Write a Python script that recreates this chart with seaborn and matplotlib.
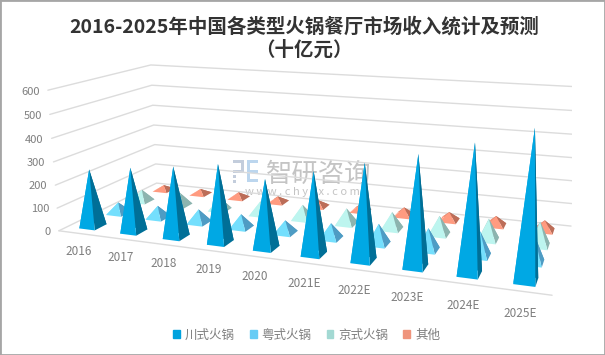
"""Hotpot restaurant revenue 2016-2025: 3D pyramid column chart."""
import matplotlib
matplotlib.use("Agg")
import matplotlib.pyplot as plt
from matplotlib.patches import Patch, Rectangle
from mpl_toolkits.mplot3d import proj3d
from mpl_toolkits.mplot3d.art3d import Poly3DCollection
import seaborn as sns

years = ["2016", "2017", "2018", "2019", "2020", "2021E", "2022E", "2023E", "2024E", "2025E"]
series_names = ["川式火锅", "粤式火锅", "京式火锅", "其他"]
chuan = [252, 277, 300, 328, 285, 335, 385, 435, 493, 560]
yue = [50, 55, 60, 60, 55, 65, 85, 90, 100, 110]
jing = [55, 60, 60, 60, 65, 70, 75, 80, 90, 100]
other = [25, 25, 28, 28, 30, 32, 38, 38, 42, 45]
values = [chuan, yue, jing, other]
y_ticks = [0, 100, 200, 300, 400, 500, 600]

# front, right, back, left face colours for each series
face_colors = [
    ("#00A8E4", "#006F97", "#006F97", "#00A8E4"),
    ("#74DFFD", "#4E9CC4", "#4E9CC4", "#74DFFD"),
    ("#BDF5EF", "#8CB4AF", "#8CB4AF", "#BDF5EF"),
    ("#FF9B80", "#BC6D58", "#BC6D58", "#FF9B80"),
]
legend_colors = ["#00A2DE", "#66CCF5", "#A3D9D3", "#EF947C"]
TEXT = "#7F7F7F"
GRID = "#DCDCDC"
HALF_X = 0.19
HALF_Y = 0.22

sns.set_theme(style="white")
plt.rcParams["font.family"] = ["Noto Sans CJK SC", "DejaVu Sans"]

fig = plt.figure(figsize=(6.05, 3.55), dpi=100)
S, OX, OY = 526.2, 309.1, 167.0
ax = fig.add_axes([(OX - S / 2) / 605, (355 - OY - S / 2) / 355, S / 605, S / 355],
                  projection="3d", computed_zorder=False)
ax.set_xlim(0, len(years))
ax.set_ylim(0, len(series_names))
ax.set_zlim(0, 600)
ax.view_init(13.99, -69.56, 0.17)
ax.set_proj_type("persp", focal_length=0.3049)
ax.set_box_aspect((3.373, 1.333, 1))
ax.set_xticks([])
ax.set_yticks([])
ax.set_zticks([])
ax.set_axis_off()
ax.patch.set_alpha(0)

n_x, n_y = len(years), len(series_names)
for tick in y_ticks:
    ax.plot([0, 0, n_x], [0, n_y, n_y], [tick, tick, tick], color=GRID, lw=1, zorder=1)
ax.plot([0, n_x], [0, 0], [0, 0], color=GRID, lw=1, zorder=1)


def pyramid(cx, cy, height):
    x0, x1 = cx - HALF_X, cx + HALF_X
    y0, y1 = cy - HALF_Y, cy + HALF_Y
    tip = (cx, cy, height)
    return [
        [(x0, y0, 0), (x1, y0, 0), tip],
        [(x1, y0, 0), (x1, y1, 0), tip],
        [(x1, y1, 0), (x0, y1, 0), tip],
        [(x0, y1, 0), (x0, y0, 0), tip],
    ]


for j, vals in enumerate(values):
    for i, val in enumerate(vals):
        poly = Poly3DCollection(pyramid(i + 0.5, j + 0.5, val),
                                facecolors=face_colors[j], edgecolors="none",
                                linewidths=0, zorder=10 + (n_y - j) * 20 + i)
        ax.add_collection3d(poly, autolim=False)


def label(x, y, z, text, **kwargs):
    u, v, _ = proj3d.proj_transform(x, y, z, ax.get_proj())
    ax.text2D(u, v, text, transform=ax.transData, va="center", color=TEXT, **kwargs)


for tick in y_ticks:
    label(-0.2, 0, tick - 8, str(tick), ha="right", fontsize=8)
for i, year in enumerate(years):
    label(i + 0.5, -0.05, -78, year, ha="center", fontsize=8.5)

fig.text(0.503, 1 - 27 / 355, "2016-2025年中国各类型火锅餐厅市场收入统计及预测",
         ha="center", va="center", fontsize=14, fontweight="bold", color="#333333")
fig.text(0.503, 1 - 50 / 355, "（十亿元）", ha="center", va="center", fontsize=14,
         fontweight="bold", color="#333333")

handles = [Patch(color=c, label=n) for c, n in zip(legend_colors, series_names)]
fig.legend(handles=handles, loc="center", bbox_to_anchor=(306.5 / 605, 1 - 335 / 355), ncol=4,
           frameon=False, fontsize=9, labelcolor=TEXT, handlelength=0.55, handleheight=0.55,
           handletextpad=0.4, columnspacing=1.2, borderpad=0)


# watermark sits under the chart
def px_rect(x, y, w, h, color):
    fig.add_artist(Rectangle((x / 605, 1 - (y + h) / 355), w / 605, h / 355, color=color,
                             lw=0, zorder=-2, transform=fig.transFigure))


for box in [(233, 160, 11, 3), (241, 160, 3, 13), (233, 170, 11, 3), (233, 175, 3, 3), (233, 180, 3, 3)]:
    px_rect(*box, "#C3CDDC")
for box in [(247, 160, 11, 3), (247, 160, 3, 22), (247, 170, 11, 3), (247, 179, 11, 3)]:
    px_rect(*box, "#BCD6EE")
fig.text(319 / 605, 1 - 174 / 355, "智研咨询", ha="center", va="center", fontsize=19,
         color="#C4C4C4", zorder=-2)
fig.text(302 / 605, 1 - 192 / 355, "w w w . c h y x x . c o m", ha="center", va="center", fontsize=8,
         color="#C4C4C4", zorder=-2)

fig.add_artist(Rectangle((0, 0), 1, 1, fill=False, edgecolor="#A6A6A6", lw=2,
                         transform=fig.transFigure, zorder=5))

fig.savefig("out.png", dpi=100)
